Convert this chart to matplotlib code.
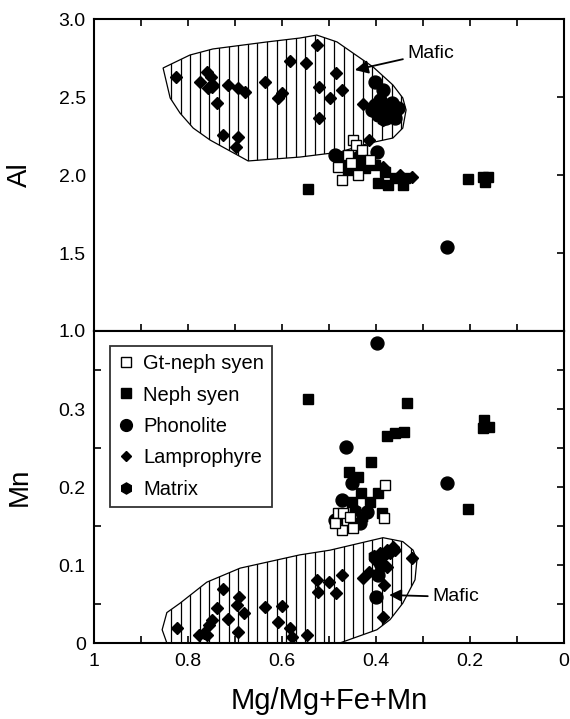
import numpy as np
import matplotlib
matplotlib.use("Agg")
import matplotlib.pyplot as plt
from matplotlib.patches import Polygon
from matplotlib.lines import Line2D

plt.rcParams['font.family'] = ['Liberation Sans', 'DejaVu Sans']

# ---------------- data: top panel (Al) ----------------
top_lamp_x = [0.826, 0.774, 0.760, 0.751, 0.749, 0.757, 0.747, 0.738, 0.726, 0.715, 0.694, 0.679,
              0.694, 0.698, 0.636, 0.609, 0.600, 0.583, 0.549, 0.526, 0.521, 0.498, 0.485, 0.472,
              0.521, 0.428, 0.415, 0.385, 0.323, 0.434, 0.409, 0.440, 0.350]
top_lamp_y = [2.628, 2.596, 2.660, 2.628, 2.564, 2.558, 2.577, 2.462, 2.256, 2.577, 2.558, 2.532,
              2.244, 2.179, 2.596, 2.494, 2.526, 2.731, 2.718, 2.833, 2.564, 2.494, 2.654, 2.545,
              2.365, 2.455, 2.224, 2.051, 1.987, 2.096, 2.071, 2.120, 2.000]

top_phon_x = [0.402, 0.385, 0.402, 0.387, 0.370, 0.396, 0.379, 0.360, 0.366, 0.391, 0.353, 0.409,
              0.398, 0.249, 0.487, 0.466, 0.445]
top_phon_y = [2.596, 2.545, 2.449, 2.429, 2.417, 2.385, 2.365, 2.365, 2.462, 2.481, 2.429, 2.417,
              2.147, 1.538, 2.128, 2.096, 2.064]

top_neph_x = [0.545, 0.204, 0.172, 0.162, 0.168, 0.396, 0.374, 0.343, 0.338, 0.360, 0.477, 0.455,
              0.434, 0.423, 0.402, 0.381, 0.460]
top_neph_y = [1.910, 1.974, 1.987, 1.987, 1.955, 1.949, 1.936, 1.936, 1.981, 1.981, 2.115, 2.077,
              2.096, 2.045, 2.064, 2.019, 2.032]

top_gt_x = [0.449, 0.443, 0.472, 0.438, 0.481, 0.460, 0.430, 0.413, 0.453]
top_gt_y = [2.224, 2.190, 1.968, 2.000, 2.051, 2.128, 2.160, 2.096, 2.080]

top_mat_x = [0.380, 0.372, 0.392, 0.365, 0.385, 0.470, 0.450]
top_mat_y = [2.400, 2.380, 2.420, 2.400, 2.350, 2.090, 2.110]

# ---------------- data: bottom panel (Mn) ----------------
bot_lamp_x = [0.823, 0.777, 0.766, 0.760, 0.755, 0.749, 0.738, 0.726, 0.715, 0.696, 0.691, 0.681,
              0.694, 0.636, 0.609, 0.600, 0.583, 0.579, 0.547, 0.526, 0.523, 0.500, 0.472, 0.485,
              0.428, 0.415, 0.383, 0.377, 0.385, 0.323, 0.402, 0.391, 0.377, 0.364, 0.385, 0.370,
              0.360]
bot_lamp_y = [0.019, 0.010, 0.013, 0.010, 0.023, 0.029, 0.045, 0.069, 0.031, 0.049, 0.059, 0.038,
              0.014, 0.046, 0.027, 0.047, 0.019, 0.008, 0.010, 0.081, 0.065, 0.078, 0.087, 0.064,
              0.083, 0.091, 0.074, 0.097, 0.033, 0.109, 0.106, 0.115, 0.119, 0.123, 0.110, 0.115,
              0.119]

bot_phon_x = [0.398, 0.464, 0.249, 0.451, 0.472, 0.487, 0.434, 0.419, 0.400, 0.396, 0.389]
bot_phon_y = [0.385, 0.251, 0.205, 0.205, 0.183, 0.158, 0.154, 0.168, 0.059, 0.087, 0.100]

bot_neph_x = [0.545, 0.334, 0.170, 0.160, 0.172, 0.377, 0.360, 0.340, 0.411, 0.457, 0.438, 0.204,
              0.396, 0.432, 0.387, 0.451, 0.413]
bot_neph_y = [0.313, 0.308, 0.286, 0.277, 0.276, 0.265, 0.269, 0.271, 0.232, 0.219, 0.213, 0.172,
              0.192, 0.192, 0.167, 0.181, 0.181]

bot_gt_x = [0.381, 0.383, 0.481, 0.472, 0.462, 0.449, 0.487, 0.470, 0.455]
bot_gt_y = [0.203, 0.160, 0.167, 0.145, 0.158, 0.147, 0.154, 0.167, 0.162]

bot_mat_x = [0.476, 0.445, 0.430, 0.405]
bot_mat_y = [0.160, 0.170, 0.160, 0.112]

# ---------------- mafic field outlines ----------------
top_field_x = [0.853, 0.847, 0.838, 0.817, 0.789, 0.753, 0.672, 0.562, 0.477, 0.413, 0.364, 0.343,
               0.336, 0.343, 0.364, 0.406, 0.483, 0.526, 0.562, 0.632, 0.747, 0.796]
top_field_y = [2.686, 2.609, 2.494, 2.397, 2.301, 2.224, 2.090, 2.115, 2.147, 2.205, 2.237, 2.301,
               2.417, 2.494, 2.577, 2.692, 2.853, 2.897, 2.878, 2.853, 2.808, 2.769]

bot_field_x = [0.845, 0.855, 0.845, 0.817, 0.760, 0.689, 0.562, 0.498, 0.385, 0.343, 0.321, 0.313,
               0.317, 0.343, 0.370, 0.398, 0.477]
bot_field_y = [0.000, 0.017, 0.039, 0.051, 0.078, 0.096, 0.113, 0.119, 0.135, 0.130, 0.119, 0.106,
               0.081, 0.051, 0.030, 0.017, 0.000]

legend_labels = ['Gt-neph syen', 'Neph syen', 'Phonolite', 'Lamprophyre', 'Matrix']

fig = plt.figure(figsize=(5.70, 7.19), dpi=100)
W, H = 570.0, 719.0
ax1 = fig.add_axes([94 / W, 1 - 331 / H, 470 / W, 312 / H])
ax2 = fig.add_axes([94 / W, 1 - 643 / H, 470 / W, 312 / H])

FS_TICK = 14


def hatched_field(ax, xs, ys):
    poly = Polygon(np.column_stack([xs, ys]), closed=True, fill=False,
                   edgecolor='black', lw=0.9, zorder=2)
    ax.add_patch(poly)
    ymin, ymax = ax.get_ylim()
    for xv in np.arange(0.836, 0.2, -0.0204):
        ln = ax.plot([xv, xv], [ymin, ymax], color='black', lw=0.9, zorder=1.5)[0]
        ln.set_clip_path(poly)


def scatter_all(ax, lamp, phon, mat, neph, gt):
    ax.plot(*lamp, ls='none', marker='D', ms=6.6, mfc='black', mec='black', zorder=3)
    ax.plot(*phon, ls='none', marker='o', ms=9.3, mfc='black', mec='black', zorder=3)
    ax.plot(*mat, ls='none', marker='h', ms=8.5, mfc='black', mec='black', zorder=3)
    ax.plot(*neph, ls='none', marker='s', ms=7.8, mfc='black', mec='black', zorder=3)
    ax.plot(*gt, ls='none', marker='s', ms=7.8, mfc='white', mec='black', mew=1.0, zorder=4)


for ax in (ax1, ax2):
    ax.set_xlim(1, 0)
    for sp in ax.spines.values():
        sp.set_linewidth(1.5)

ax1.set_ylim(1.0, 3.0)
ax2.set_ylim(0.0, 0.4)

hatched_field(ax1, top_field_x, top_field_y)
hatched_field(ax2, bot_field_x, bot_field_y)

scatter_all(ax1, (top_lamp_x, top_lamp_y), (top_phon_x, top_phon_y), (top_mat_x, top_mat_y),
            (top_neph_x, top_neph_y), (top_gt_x, top_gt_y))
scatter_all(ax2, (bot_lamp_x, bot_lamp_y), (bot_phon_x, bot_phon_y), (bot_mat_x, bot_mat_y),
            (bot_neph_x, bot_neph_y), (bot_gt_x, bot_gt_y))

# ----- ticks -----
xt = np.round(np.arange(0, 1.01, 0.1), 1)
for ax in (ax1, ax2):
    ax.set_xticks(xt)
    ax.tick_params(axis='both', which='both', direction='in', length=5, width=1.2,
                   labelsize=FS_TICK)

# top panel
ax1.tick_params(axis='x', top=True, bottom=True, labelbottom=False)
ax1.set_yticks([1.0, 1.5, 2.0, 2.5, 3.0])
ax1.set_yticklabels(['1.0', '1.5', '2.0', '2.5', '3.0'])
ax1.tick_params(axis='y', left=True, right=True, pad=6)
for t in ax1.yaxis.get_major_ticks():
    t.tick1line.set_visible(False)

# bottom panel
ax2.tick_params(axis='x', top=False, bottom=True, pad=7)
ax2.set_xticklabels(['0' if abs(v) < 1e-9 else ('1' if abs(v - 1) < 1e-9 else
                     (f'{v:.1f}' if round(v * 10) % 2 == 0 else '')) for v in xt])
ax2.set_yticks([0, 0.1, 0.2, 0.3])
ax2.set_yticklabels(['0', '0.1', '0.2', '0.3'])
ax2.set_yticks([0.05, 0.15, 0.25, 0.35, 0.4], minor=True)
ax2.tick_params(axis='y', which='both', left=True, right=True, pad=6)
for t in ax2.yaxis.get_major_ticks():
    t.tick1line.set_visible(False)

# labels
ax1.set_ylabel('Al', fontsize=20)
ax2.set_ylabel('Mn', fontsize=20)
ax1.yaxis.set_label_coords(-0.13, 0.5)
ax2.yaxis.set_label_coords(-0.13, 0.5)
ax2.set_xlabel('Mg/Mg+Fe+Mn', fontsize=21)
ax2.xaxis.set_label_coords(0.5, -0.14)

# Mafic annotations
ax1.annotate('Mafic', xy=(0.445, 2.673), xytext=(0.334, 2.782), fontsize=14,
             va='center', ha='left',
             arrowprops=dict(arrowstyle='-|>', color='black', lw=1.3, mutation_scale=20,
                             shrinkA=1, shrinkB=0))
ax2.annotate('Mafic', xy=(0.372, 0.0615), xytext=(0.281, 0.059), fontsize=14,
             va='center', ha='left',
             arrowprops=dict(arrowstyle='-|>', color='black', lw=1.3, mutation_scale=18,
                             shrinkA=1, shrinkB=0))

# legend
handles = [
    Line2D([], [], ls='none', marker='s', ms=7, mfc='white', mec='black', mew=1.0),
    Line2D([], [], ls='none', marker='s', ms=7, mfc='black', mec='black'),
    Line2D([], [], ls='none', marker='o', ms=8.5, mfc='black', mec='black'),
    Line2D([], [], ls='none', marker='D', ms=5.5, mfc='black', mec='black'),
    Line2D([], [], ls='none', marker='h', ms=8, mfc='black', mec='black'),
]
leg = ax2.legend(handles, legend_labels, loc='upper left', bbox_to_anchor=(0.034, 0.952),
                 borderaxespad=0, fontsize=14.5, frameon=True, fancybox=False,
                 handlelength=0.8, handletextpad=0.45, labelspacing=0.62, borderpad=0.4)
leg.get_frame().set_edgecolor('black')
leg.get_frame().set_linewidth(1.3)

fig.savefig('out.png', dpi=100)
